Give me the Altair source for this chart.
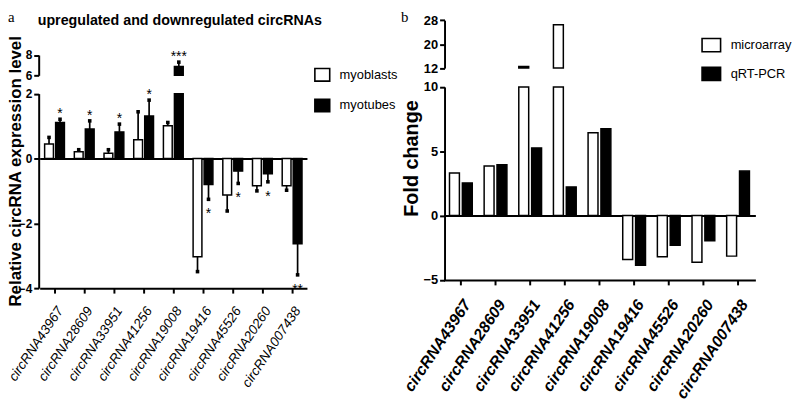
import altair as alt
import pandas as pd

# ---------------- data ----------------
CATEGORIES = ["circRNA43967", "circRNA28609", "circRNA33951", "circRNA41256",
              "circRNA19008", "circRNA19416", "circRNA45526", "circRNA20260",
              "circRNA007438"]

A_SERIES = ["myoblasts", "myotubes"]
A_MYOBLASTS = [0.45, 0.21, 0.16, 0.58, 1.01, -3.03, -1.13, -0.84, -0.84]
A_MYOBLASTS_SD = [0.20, 0.06, 0.11, 0.86, 0.10, 0.46, 0.49, 0.16, 0.14]
A_MYOTUBES = [1.11, 0.91, 0.82, 1.31, 6.88, -0.80, -0.39, -0.47, -2.63]
A_MYOTUBES_SD = [0.10, 0.25, 0.24, 0.49, 0.42, 0.46, 0.38, 0.25, 0.96]
A_MYOTUBES_SIG = ["*", "*", "*", "*", "***", "*", "*", "*", "**"]

B_SERIES = ["microarray", "qRT-PCR"]
B_MICROARRAY = [3.31, 3.85, 12.5, 26.5, 6.44, -3.41, -3.20, -3.62, -3.15]
B_QRTPCR = [2.54, 3.95, 5.26, 2.23, 6.75, -3.85, -2.31, -1.95, 3.46]

A_LOWER_DOMAIN = [-4, 2]
A_UPPER_DOMAIN = [6, 8]
B_LOWER_DOMAIN = [-5, 10]
B_UPPER_DOMAIN = [12, 28]
A_LOWER_TICKS = [-4, -2, 0, 2]
A_UPPER_TICKS = [6, 8]
B_LOWER_TICKS = [-5, 0, 5, 10]
B_UPPER_TICKS = [12, 20, 28]

PANEL_LABELS = ["a", "b"]
A_TITLE = "upregulated and downregulated circRNAs"
A_Y_TITLE = "Relative circRNA expression level"
B_Y_TITLE = "Fold change"

n = len(CATEGORIES)
df_a = pd.DataFrame({
    "cat": CATEGORIES * 2,
    "series": [A_SERIES[0]] * n + [A_SERIES[1]] * n,
    "value": A_MYOBLASTS + A_MYOTUBES,
    "sd": A_MYOBLASTS_SD + A_MYOTUBES_SD,
    "sig": [""] * n + A_MYOTUBES_SIG,
})
df_b = pd.DataFrame({
    "cat": CATEGORIES * 2,
    "series": [B_SERIES[0]] * n + [B_SERIES[1]] * n,
    "value": B_MICROARRAY + B_QRTPCR,
})

# ---------------- layout ----------------
W, H = 792, 394
SANS = "Liberation Sans, Arial, sans-serif"
SERIF = "Liberation Serif, Times New Roman, serif"

A_X = alt.Scale(domain=CATEGORIES, range=[32, 302], paddingInner=1 / 3, paddingOuter=1 / 6)
A_XO = alt.Scale(domain=A_SERIES, paddingInner=0.2, paddingOuter=0)
A_Y_LO = alt.Scale(domain=A_LOWER_DOMAIN, range=[281, 84.5], clamp=True, nice=False, zero=False)
A_Y_UP = alt.Scale(domain=A_UPPER_DOMAIN, range=[66, 45.5], clamp=True, nice=False, zero=False)
A_FILL = alt.Scale(domain=A_SERIES, range=["white", "black"])

B_X = alt.Scale(domain=CATEGORIES, range=[440, 755], paddingInner=12 / 35, paddingOuter=6 / 35)
B_XO = alt.Scale(domain=B_SERIES, paddingInner=0.23, paddingOuter=0)
B_Y_LO = alt.Scale(domain=B_LOWER_DOMAIN, range=[272.7, 77.7], clamp=True, nice=False, zero=False)
B_Y_UP = alt.Scale(domain=B_UPPER_DOMAIN, range=[58.7, 10.3], clamp=True, nice=False, zero=False)
B_FILL = alt.Scale(domain=B_SERIES, range=["white", "black"])


def x_label_axis(offset, size, weight, pad):
    return alt.Axis(orient="bottom", offset=offset, title=None, labelAngle=-56,
                    labelAlign="right", labelBaseline="top", labelFont=SANS,
                    labelFontStyle="italic", labelFontWeight=weight, labelFontSize=size,
                    labelOverlap=False, labelPadding=pad, tickSize=5, tickWidth=2,
                    domainWidth=2, zindex=1)


def zero_axis(offset):
    return alt.Axis(orient="bottom", offset=offset, title=None, labels=False,
                    ticks=False, domainWidth=2)


def y_axis(offset, values, size):
    return alt.Axis(orient="left", offset=offset, title=None, values=values,
                    labelFont=SANS, labelFontWeight="bold", labelFontSize=size,
                    labelOverlap=False, labelPadding=2, tickSize=5, tickWidth=2,
                    domainWidth=2, labelColor="black", zindex=1)


def legend(x, y, labelsize, path, size, rowpad):
    return alt.Legend(orient="none", legendX=x, legendY=y, title=None,
                      symbolType=path, symbolSize=size, symbolStrokeColor="black",
                      symbolStrokeWidth=1.6, labelFont=SANS, labelFontSize=labelsize,
                      labelColor="black", rowPadding=rowpad, labelOffset=9, padding=0)


def segment(df, xs, xos, ys, fills, xaxis, yaxis, leg, bar_filter, err_filter, with_err):
    base = alt.Chart(df)
    if with_err:
        base = base.transform_calculate(
            end="datum.value >= 0 ? datum.value + datum.sd : datum.value - datum.sd")
    x = alt.X("cat:N", scale=xs, axis=xaxis, sort=CATEGORIES)
    xo = alt.XOffset("series:N", scale=xos, sort=list(fills.domain))
    bars_src = base if bar_filter is None else base.transform_filter(bar_filter)
    bars = bars_src.mark_bar(stroke="black", strokeWidth=1.5).encode(
        x=x, xOffset=xo,
        y=alt.Y("value:Q", scale=ys, axis=yaxis),
        y2=alt.datum(0),
        fill=alt.Fill("series:N", scale=fills, legend=leg),
    )
    layers = [bars]
    if with_err:
        eb = base.transform_filter(err_filter)
        rules = eb.mark_rule(color="black", strokeWidth=1.7).encode(
            x=x, xOffset=xo,
            y=alt.Y("value:Q", scale=ys, axis=yaxis), y2="end:Q")
        caps = eb.mark_point(shape="square", filled=True, size=13, color="black",
                             opacity=1).encode(
            x=x, xOffset=xo, y=alt.Y("end:Q", scale=ys, axis=yaxis))
        up = eb.transform_filter("datum.sig != '' && datum.value > 0").mark_text(
            font=SANS, fontSize=14, baseline="alphabetic", dy=-1, fill="black",
            color="black").encode(
            x=x, xOffset=xo, y=alt.Y("end:Q", scale=ys, axis=yaxis), text="sig:N")
        dn = eb.transform_filter("datum.sig != '' && datum.value < 0").mark_text(
            font=SANS, fontSize=14, baseline="alphabetic", dy=19, fill="black",
            color="black").encode(
            x=x, xOffset=xo, y=alt.Y("end:Q", scale=ys, axis=yaxis), text="sig:N")
        layers += [rules, caps, up, dn]
    return alt.layer(*layers)


A_low = segment(df_a, A_X, A_XO, A_Y_LO, A_FILL,
                x_label_axis(281 - H, 13.5, "normal", 11), y_axis(-31, A_LOWER_TICKS, 12),
                legend(309, 57, 13, "M-1,-0.85L1,-0.85L1,0.85L-1,0.85Z", 225, 10),
                None, "datum.value <= 2", True)
A_up = segment(df_a, A_X, A_XO, A_Y_UP, A_FILL,
               zero_axis(150 - H), y_axis(-31, A_UPPER_TICKS, 12), None,
               "datum.value > 6", "datum.value > 6", True)
B_low = segment(df_b, B_X, B_XO, B_Y_LO, B_FILL,
                x_label_axis(272.7 - H, 16, "bold", 12), y_axis(-441, B_LOWER_TICKS, 13),
                legend(700, 25, 13, "M-1,-0.72L1,-0.72L1,0.72L-1,0.72Z", 350, 8),
                None, None, False)
B_up = segment(df_b, B_X, B_XO, B_Y_UP, B_FILL,
               zero_axis(207.7 - H), y_axis(-441, B_UPPER_TICKS, 13), None,
               "datum.value > 12", None, False)


def label(text, x, y, font, size, weight="normal", angle=0, align="left", baseline="alphabetic"):
    return alt.Chart(pd.DataFrame({"t": [text]})).mark_text(
        font=font, fontSize=size, fontWeight=weight, angle=angle, align=align,
        baseline=baseline, fill="black", color="black").encode(
        x=alt.value(x), y=alt.value(y), text="t:N")


texts = [
    label(PANEL_LABELS[0], 0, 0, SERIF, 15, baseline="top"),
    label(PANEL_LABELS[1], 397, 0, SERIF, 15, baseline="top"),
    label(A_TITLE, 30, 15, SANS, 14.4, "bold"),
    label(A_Y_TITLE, 8, 163, SANS, 17, "bold", 270, "center", "middle"),
    label(B_Y_TITLE, 408, 150, SANS, 20, "bold", 270, "center", "middle"),
]

chart = alt.layer(A_low, A_up, B_low, B_up, *texts).resolve_scale(
    x="independent", y="independent", xOffset="independent", fill="independent"
).properties(
    width=W, height=H, padding=0, autosize=alt.AutoSizeParams(type="none")
).configure_view(strokeOpacity=0).configure_axis(
    grid=False, domainColor="black", tickColor="black", labelColor="black"
)

chart.save("out.html", embed_options={"renderer": "svg", "actions": False})
